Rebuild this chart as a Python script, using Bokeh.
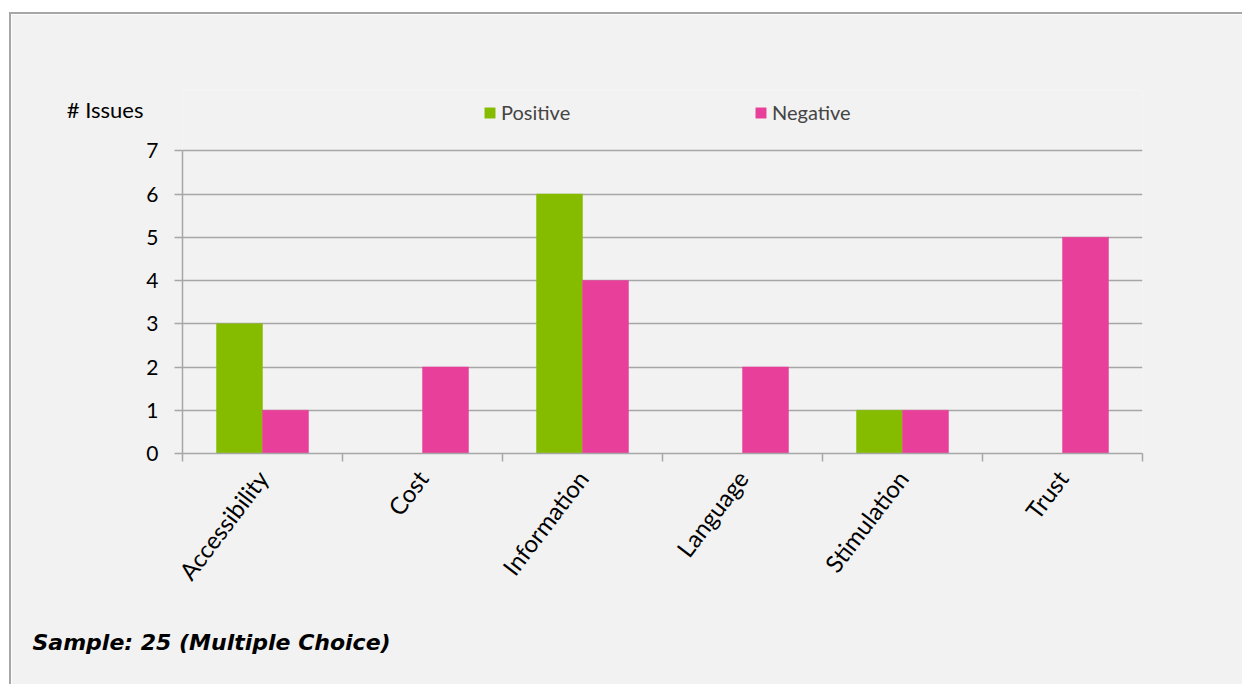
import math
from bokeh.plotting import figure
from bokeh.models import (Range1d, FixedTicker, Legend, LegendItem, LinearAxis, Title)
from bokeh.embed import file_html
from bokeh.resources import INLINE

# Issue counts per category
categories = ["Accessibility", "Cost", "Information", "Language", "Stimulation", "Trust"]
positive = [3, 0, 6, 0, 1, 0]
negative = [1, 2, 4, 2, 1, 5]
y_ticks = [0, 1, 2, 3, 4, 5, 6, 7]
y_max = 7

GREEN = "#86bc00"
PINK = "#e8409a"
GRID = "#a6a6a6"
BG = "#f2f2f2"
FONT = "Lato"

# the frame reaches above the value axis so the legend sits inside it
top_room = 8.3954
p = figure(width=1233, height=672, output_backend="svg", toolbar_location=None,
           x_range=Range1d(0, len(categories)), y_range=Range1d(0, top_room),
           min_border_left=171, min_border_right=102,
           min_border_top=76, min_border_bottom=232)
p.margin = (12, 0, 0, 9)
p.styles = {"border-left": "2px solid #a6a6a6", "border-top": "2px solid #a6a6a6"}
p.background_fill_color = BG
p.border_fill_color = BG
p.outline_line_color = None

bar_w = 0.2875
centers = [i + 0.5 for i in range(len(categories))]
pos_x = [c - bar_w / 2 for c in centers]
neg_x = [c + bar_w / 2 for c in centers]

r_pos = p.vbar(x=pos_x, top=positive, width=bar_w, bottom=0,
               fill_color=GREEN, line_color=GREEN, line_width=0.5)
r_neg = p.vbar(x=neg_x, top=negative, width=bar_w, bottom=0,
               fill_color=PINK, line_color=PINK, line_width=0.5)

# Grid and value axis
p.xgrid.visible = False
p.ygrid.ticker = FixedTicker(ticks=y_ticks)
p.ygrid.grid_line_color = GRID
p.ygrid.grid_line_width = 1.5

ya = p.yaxis[0]
ya.ticker = FixedTicker(ticks=y_ticks)
ya.bounds = (0, y_max)
ya.axis_line_color = GRID
ya.axis_line_width = 1.5
ya.major_tick_line_color = GRID
ya.major_tick_line_width = 1.5
ya.major_tick_out = 8
ya.major_tick_in = 0
ya.minor_tick_line_color = None
ya.major_label_text_font = FONT
ya.major_label_text_font_size = "21px"
ya.major_label_text_color = "#000000"
ya.major_label_standoff = 16

# Axis caption, set level with the legend
caption_at = 7.95
cap_axis = LinearAxis(ticker=FixedTicker(ticks=[caption_at]),
                      major_label_overrides={caption_at: "# Issues"},
                      axis_line_color=None, major_tick_line_color=None,
                      minor_tick_line_color=None, major_tick_out=0, major_tick_in=0,
                      major_label_standoff=0, major_label_text_font=FONT,
                      major_label_text_font_size="22px", major_label_text_color="#000000")
p.add_layout(cap_axis, "left")

# Category axis: boundary ticks as minor ticks, names at the centres
xa = p.xaxis[0]
xa.ticker = FixedTicker(ticks=centers, minor_ticks=list(range(len(categories) + 1)))
xa.major_label_overrides = {c: name for c, name in zip(centers, categories)}
xa.axis_line_color = GRID
xa.axis_line_width = 1.5
xa.major_tick_out = 0
xa.major_tick_in = 0
xa.minor_tick_line_color = GRID
xa.minor_tick_line_width = 1.5
xa.minor_tick_out = 8
xa.minor_tick_in = 0
xa.major_label_orientation = 0.92
xa.major_label_text_font = FONT
xa.major_label_text_font_size = "24px"
xa.major_label_text_color = "#000000"
xa.major_label_standoff = 12

# Legend
legend = Legend(items=[LegendItem(label="Positive", renderers=[r_pos]),
                       LegendItem(label="Negative", renderers=[r_neg])],
                orientation="horizontal", location=(301, 329),
                background_fill_alpha=0, border_line_color=None,
                label_text_font=FONT, label_text_font_size="20px",
                glyph_width=13, glyph_height=13, label_standoff=5,
                label_width=200, spacing=53, padding=0, margin=0)
p.add_layout(legend, "center")

# Footnote
p.add_layout(Title(text="Sample: 25 (Multiple Choice)", align="left", offset=-150,
                   standoff=63, text_font="DejaVu Sans", text_font_style="bold italic",
                   text_font_size="22px", text_color="#000000"), "below")

open("out.html", "w").write(file_html(p, INLINE))
